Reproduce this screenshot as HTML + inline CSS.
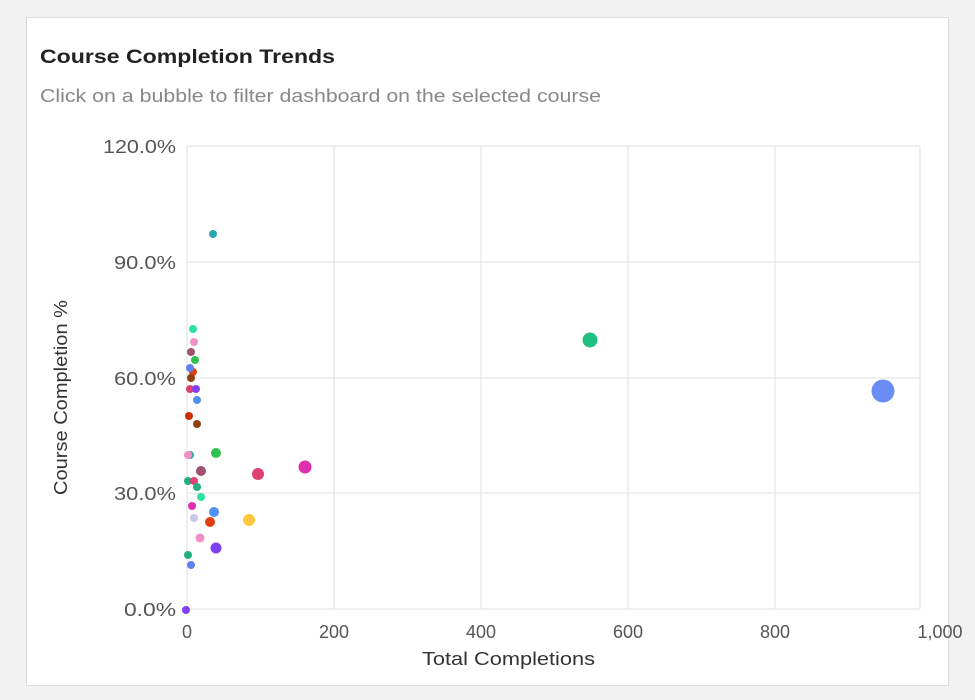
<!DOCTYPE html><html><head><style>
body{margin:0;background:#f2f2f2;font-family:"Liberation Sans",sans-serif;}
.card{position:absolute;left:26px;top:17px;width:921px;height:667px;background:#fff;border:1px solid #dcdcdc;}
</style></head><body>
<div class="card"></div>
<svg width="975" height="700" style="position:absolute;left:0;top:0" font-family="Liberation Sans, sans-serif">
<text x="40" y="63" font-size="19" font-weight="bold" fill="#222" textLength="295" lengthAdjust="spacingAndGlyphs">Course Completion Trends</text>
<text x="40" y="102" font-size="18" fill="#888" textLength="561" lengthAdjust="spacingAndGlyphs">Click on a bubble to filter dashboard on the selected course</text>
<g stroke="#e6e6e6" stroke-width="1.3">
<line x1="187" y1="146" x2="920" y2="146"/><line x1="187" y1="262" x2="920" y2="262"/><line x1="187" y1="378" x2="920" y2="378"/><line x1="187" y1="493" x2="920" y2="493"/><line x1="187" y1="609" x2="920" y2="609"/>
<line x1="187" y1="146" x2="187" y2="609"/><line x1="334" y1="146" x2="334" y2="609"/><line x1="481" y1="146" x2="481" y2="609"/><line x1="628" y1="146" x2="628" y2="609"/><line x1="775" y1="146" x2="775" y2="609"/><line x1="920" y1="146" x2="920" y2="609"/>
</g>
<g font-size="18" fill="#555">
<text x="103" y="153" textLength="73" lengthAdjust="spacingAndGlyphs">120.0%</text>
<text x="114" y="269" textLength="62" lengthAdjust="spacingAndGlyphs">90.0%</text>
<text x="114" y="385" textLength="62" lengthAdjust="spacingAndGlyphs">60.0%</text>
<text x="114" y="500" textLength="62" lengthAdjust="spacingAndGlyphs">30.0%</text>
<text x="124" y="616" textLength="52" lengthAdjust="spacingAndGlyphs">0.0%</text>
</g>
<g font-size="18" fill="#555" text-anchor="middle">
<text x="187" y="638">0</text><text x="334" y="638">200</text><text x="481" y="638">400</text><text x="628" y="638">600</text><text x="775" y="638">800</text><text x="940" y="638">1,000</text>
</g>
<text x="422" y="665" font-size="18" fill="#333" textLength="173" lengthAdjust="spacingAndGlyphs">Total Completions</text>
<text transform="translate(67,495) rotate(-90)" font-size="18" fill="#333" textLength="195" lengthAdjust="spacingAndGlyphs">Course Completion %</text>
<g>
<circle cx="213" cy="234" r="4" fill="#2aa8b0"/>
<circle cx="193" cy="329" r="4" fill="#2de0a0"/>
<circle cx="194" cy="342" r="4" fill="#f090c8"/>
<circle cx="191" cy="352" r="4" fill="#a05070"/>
<circle cx="195" cy="360" r="4" fill="#30c050"/>
<circle cx="193" cy="372" r="4" fill="#e04010"/>
<circle cx="190" cy="368" r="4" fill="#6080f0"/>
<circle cx="191" cy="378" r="4" fill="#904010"/>
<circle cx="190" cy="389" r="4" fill="#e04070"/>
<circle cx="196" cy="389" r="4" fill="#8040f0"/>
<circle cx="197" cy="400" r="4" fill="#5090f0"/>
<circle cx="189" cy="416" r="4" fill="#d03000"/>
<circle cx="197" cy="424" r="4" fill="#904010"/>
<circle cx="190" cy="455" r="4" fill="#2aa8b0"/>
<circle cx="188" cy="455" r="4" fill="#f090c8"/>
<circle cx="216" cy="453" r="5" fill="#30c050"/>
<circle cx="201" cy="471" r="5" fill="#a05070"/>
<circle cx="258" cy="474" r="6" fill="#e04070"/>
<circle cx="305" cy="467" r="6.5" fill="#e030b0"/>
<circle cx="188" cy="481" r="4" fill="#20b080"/>
<circle cx="194" cy="481" r="4" fill="#e04070"/>
<circle cx="197" cy="487" r="4" fill="#20b080"/>
<circle cx="201" cy="497" r="4" fill="#2de0a0"/>
<circle cx="192" cy="506" r="4" fill="#e030b0"/>
<circle cx="194" cy="518" r="4" fill="#c8c8e8"/>
<circle cx="214" cy="512" r="5" fill="#5090f0"/>
<circle cx="210" cy="522" r="5" fill="#e04010"/>
<circle cx="249" cy="520" r="6" fill="#ffc840"/>
<circle cx="200" cy="538" r="4.5" fill="#f090c8"/>
<circle cx="216" cy="548" r="5.5" fill="#8040f0"/>
<circle cx="188" cy="555" r="4" fill="#20b080"/>
<circle cx="191" cy="565" r="4" fill="#6080f0"/>
<circle cx="186" cy="610" r="4" fill="#8040f0"/>
<circle cx="590" cy="340" r="7.5" fill="#20c080"/>
<circle cx="883" cy="391" r="11.5" fill="#6a8cf5"/>
</g>
</svg>
</body></html>
